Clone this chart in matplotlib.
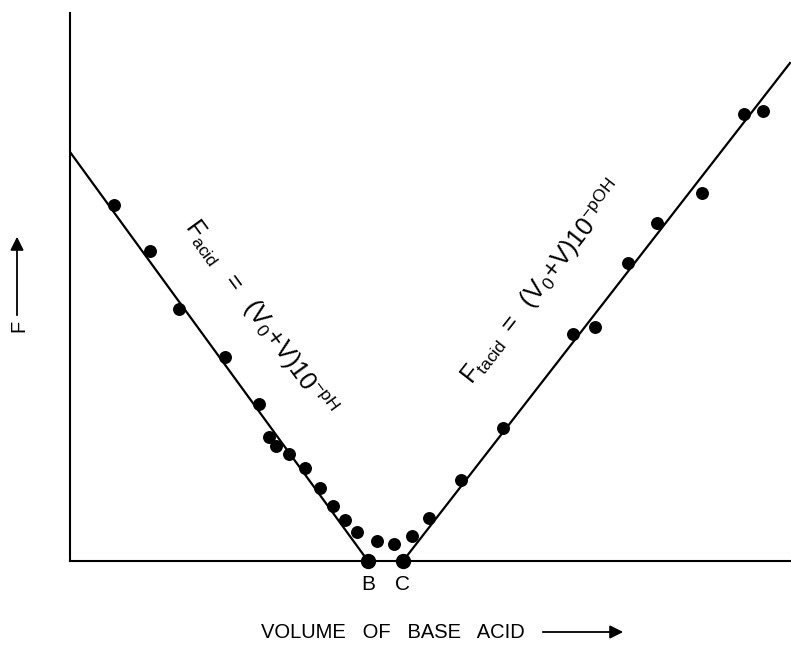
import numpy as np
import matplotlib.pyplot as plt

plt.rcParams['font.family'] = ['Liberation Sans', 'DejaVu Sans']
plt.rcParams['mathtext.fontset'] = 'custom'
plt.rcParams['mathtext.rm'] = 'Liberation Sans'
plt.rcParams['mathtext.it'] = 'Liberation Sans:italic'

# measured points (volume, F), arbitrary units
volume = [4.4, 8.0, 10.9, 15.5, 18.9, 19.9, 20.6, 21.9, 23.5, 25.0, 26.3, 27.5,
          28.7, 30.7, 32.4, 34.2, 35.9, 39.1, 43.3, 50.3, 52.5, 55.8, 58.7,
          63.2, 67.4, 69.3]
F = [35.6, 31.0, 25.2, 20.4, 15.7, 12.4, 11.5, 10.7, 9.3, 7.3, 5.5, 4.1,
     2.9, 2.0, 1.7, 2.5, 4.3, 8.1, 13.3, 22.7, 23.4, 29.8, 33.8,
     36.8, 44.7, 45.0]

# end points B and C
end_vol = [29.8, 33.3]
end_lab = ['B', 'C']

# fitted straight lines
acid_x = [0.0, 29.8]
acid_y = [40.9, 0.0]
base_x = [33.3, 72.0]
base_y = [0.0, 49.8]

fig = plt.figure(figsize=(7.91, 6.46), dpi=100)
ax = fig.add_axes([70/791, 85/646, 721/791, 548/646])

ax.plot(acid_x, acid_y, color='black', lw=1.6)
ax.plot(base_x, base_y, color='black', lw=1.6)
ax.plot(volume, F, 'o', color='black', ms=8.3)
ax.plot(end_vol, [0, 0], 'o', color='black', ms=10, clip_on=False, zorder=5)
for v, lab in zip(end_vol, end_lab):
    ax.text(v, -1.4, lab, ha='center', va='top', fontsize=15)

ax.set_xlim(0, 72.1)
ax.set_ylim(0, 54.8)
ax.spines['top'].set_visible(False)
ax.spines['right'].set_visible(False)
ax.spines['left'].set_linewidth(1.5)
ax.spines['bottom'].set_linewidth(1.5)
ax.set_xticks([])
ax.set_yticks([])

ax.text(19.0, 24.3, r'$\mathrm{F_{acid}\ \ =\ \ (V_0\!+\!V)10^{-pH}}$',
        rotation=-54, ha='center', va='center', fontsize=18,
        rotation_mode='anchor')
ax.text(47.2, 27.9, r'$\mathrm{F_{tacid}\ =\ \ (V_0\!+\!V)10^{-pOH}}$',
        rotation=52, ha='center', va='center', fontsize=18,
        rotation_mode='anchor')

fig.text(393/791, 1 - 632/646, 'VOLUME   OF   BASE   ACID', ha='center',
         va='center', fontsize=14.5)
fig.add_artist(plt.matplotlib.patches.FancyArrowPatch(
    (540/791, 1 - 632/646), (626/791, 1 - 632/646), transform=fig.transFigure,
    arrowstyle='-|>,head_length=8,head_width=4', color='black', lw=1.3))
fig.text(19/791, 1 - 326/646, 'F', rotation=90, ha='center', va='center',
         fontsize=14.5)
fig.add_artist(plt.matplotlib.patches.FancyArrowPatch(
    (17/791, 1 - 318/646), (17/791, 1 - 234/646), transform=fig.transFigure,
    arrowstyle='-|>,head_length=8,head_width=4', color='black', lw=1.3))

fig.savefig('out.png', dpi=100)
